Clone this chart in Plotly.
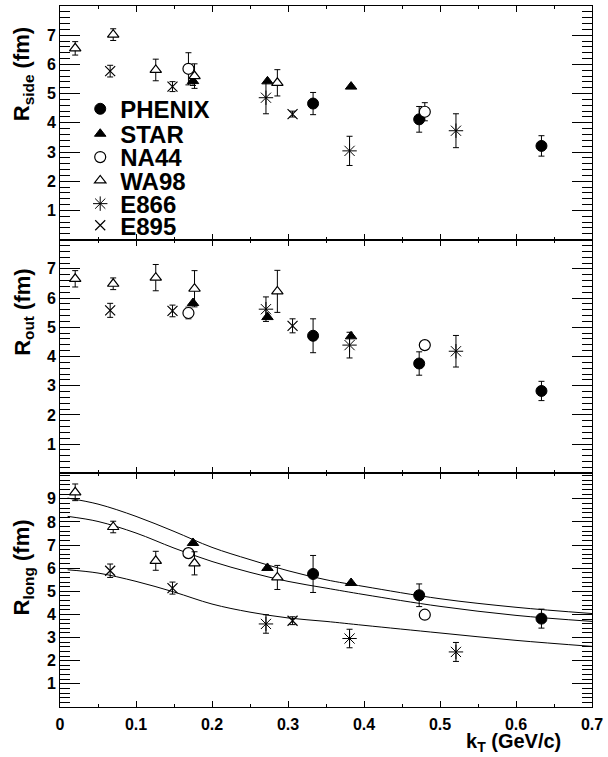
import plotly.graph_objects as go

# ---------------- data ----------------
phenix_kt = [0.333, 0.4726, 0.6335]
phenix_side = [4.66, 4.12, 3.21]
phenix_side_err = [0.38, 0.44, 0.35]
phenix_out = [4.71, 3.76, 2.82]
phenix_out_err = [0.58, 0.40, 0.33]
phenix_long = [5.75, 4.83, 3.82]
phenix_long_err = [0.80, 0.49, 0.41]

star_kt = [0.175, 0.273, 0.383]
star_side = [5.43, 5.42, 5.24]
star_side_err = [0.15, 0.0, 0.0]
star_out = [5.83, 5.35, 4.69]
star_out_err = [0.0, 0.0, 0.0]
star_long = [7.09, 6.01, 5.36]
star_long_err = [0.0, 0.0, 0.0]

na44_kt = [0.169, 0.48]
na44_side = [5.85, 4.38]
na44_side_err = [0.55, 0.31]
na44_out = [5.49, 4.39]
na44_out_err = [0.20, 0.0]
na44_long = [6.65, 3.99]
na44_long_err = [0.20, 0.0]

wa98_kt = [0.020, 0.070, 0.126, 0.177, 0.286]
wa98_side = [6.55, 7.02, 5.81, 5.60, 5.37]
wa98_side_err = [0.23, 0.20, 0.37, 0.42, 0.45]
wa98_out = [6.66, 6.49, 6.70, 6.32, 6.23]
wa98_out_err = [0.28, 0.20, 0.45, 0.62, 0.72]
wa98_long = [9.28, 7.78, 6.32, 6.21, 5.60]
wa98_long_err = [0.36, 0.25, 0.41, 0.50, 0.52]

e866_kt = [0.271, 0.381, 0.521]
e866_side = [4.86, 3.04, 3.73]
e866_side_err = [0.55, 0.50, 0.58]
e866_out = [5.62, 4.39, 4.18]
e866_out_err = [0.42, 0.44, 0.54]
e866_long = [3.59, 2.96, 2.38]
e866_long_err = [0.40, 0.40, 0.41]

e895_kt = [0.066, 0.148, 0.306]
e895_side = [5.77, 5.24, 4.30]
e895_side_err = [0.20, 0.17, 0.10]
e895_out = [5.58, 5.56, 5.05]
e895_out_err = [0.24, 0.20, 0.24]
e895_long = [5.89, 5.14, 3.73]
e895_long_err = [0.29, 0.26, 0.17]

# curves in R_long panel
curve_kt = [0.01, 0.05, 0.10, 0.15, 0.20, 0.25, 0.30, 0.35, 0.40, 0.50, 0.60, 0.70]
curve_upper = [9.03, 8.77, 8.24, 7.59, 6.90, 6.37, 5.89, 5.50, 5.21, 4.68, 4.31, 4.04]
curve_middle = [8.24, 8.02, 7.52, 6.87, 6.29, 5.82, 5.43, 5.14, 4.86, 4.35, 3.96, 3.70]
curve_lower = [5.93, 5.79, 5.43, 4.97, 4.45, 4.10, 3.85, 3.70, 3.53, 3.20, 2.88, 2.62]

x_tick_vals = [0, 0.1, 0.2, 0.3, 0.4, 0.5, 0.6, 0.7]
x_tick_text = ["0", "0.1", "0.2", "0.3", "0.4", "0.5", "0.6", "0.7"]
y_tick_vals_so = [1, 2, 3, 4, 5, 6, 7]
y_tick_vals_l = [1, 2, 3, 4, 5, 6, 7, 8, 9]

FONT = "Liberation Sans"

datasets = [
    ("PHENIX", phenix_kt, [phenix_side, phenix_out, phenix_long],
     [phenix_side_err, phenix_out_err, phenix_long_err],
     dict(symbol="circle", size=11, color="black", line=dict(color="black", width=1))),
    ("STAR", star_kt, [star_side, star_out, star_long],
     [star_side_err, star_out_err, star_long_err],
     dict(symbol="triangle-up", size=10, color="black", line=dict(color="black", width=1))),
    ("NA44", na44_kt, [na44_side, na44_out, na44_long],
     [na44_side_err, na44_out_err, na44_long_err],
     dict(symbol="circle", size=11, color="white", line=dict(color="black", width=1.2))),
    ("WA98", wa98_kt, [wa98_side, wa98_out, wa98_long],
     [wa98_side_err, wa98_out_err, wa98_long_err],
     dict(symbol="triangle-up", size=10, color="white", line=dict(color="black", width=1.2))),
    ("E866", e866_kt, [e866_side, e866_out, e866_long],
     [e866_side_err, e866_out_err, e866_long_err],
     dict(symbol="asterisk-open", size=12, color="black", line=dict(color="black", width=1))),
    ("E895", e895_kt, [e895_side, e895_out, e895_long],
     [e895_side_err, e895_out_err, e895_long_err],
     dict(symbol="x-thin-open", size=10, color="black", line=dict(color="black", width=1.2))),
]

# panel index 0 = side (top), 1 = out (middle), 2 = long (bottom)
axis_of_panel = [("x3", "y3"), ("x2", "y2"), ("x", "y")]

fig = go.Figure()

# curves
for cy in (curve_upper, curve_middle, curve_lower):
    fig.add_trace(go.Scatter(x=curve_kt, y=cy, mode="lines", line=dict(color="black", width=1, shape="spline"),
                             xaxis="x", yaxis="y", showlegend=False, hoverinfo="skip"))

legend_names = ["legend", "legend2", "legend3", "legend4", "legend5", "legend6"]
for di, (name, kt, vals, errs, mk) in enumerate(datasets):
    for p in range(3):
        xa, ya = axis_of_panel[p]
        fig.add_trace(go.Scatter(
            x=kt, y=vals[p], mode="markers", name=name,
            marker=mk,
            error_y=dict(type="data", array=errs[p], visible=True, color="black", thickness=1, width=3),
            xaxis=xa, yaxis=ya,
            showlegend=(p == 0), legend=legend_names[di],
        ))

common_x = dict(range=[0, 0.7], showline=True, linecolor="black", linewidth=1, mirror="allticks",
                ticks="inside", ticklen=6, tickcolor="black", tickwidth=1,
                tickvals=x_tick_vals, ticktext=x_tick_text,
                minor=dict(dtick=0.05, tick0=0, ticks="inside", ticklen=3, tickcolor="black", tickwidth=1),
                showgrid=False, zeroline=False)
common_y = dict(showline=True, linecolor="black", linewidth=1, mirror="allticks",
                ticks="inside", ticklen=20, tickcolor="black", tickwidth=1,
                minor=dict(dtick=0.2, tick0=0, ticks="inside", ticklen=10, tickcolor="black", tickwidth=1),
                showgrid=False, zeroline=False,
                tickfont=dict(family=FONT, size=16, color="black", weight="bold"))

d = 1 / 3
fig.update_layout(
    width=608, height=757,
    margin=dict(l=60, r=12, t=5, b=50),
    paper_bgcolor="white", plot_bgcolor="white",
    font=dict(family=FONT, color="black"),
    xaxis=dict(common_x, domain=[0, 1], anchor="y", showticklabels=True, ticklabelstandoff=3,
               tickfont=dict(family=FONT, size=16, color="black", weight="bold")),
    xaxis2=dict(common_x, domain=[0, 1], anchor="y2", matches="x", showticklabels=False),
    xaxis3=dict(common_x, domain=[0, 1], anchor="y3", matches="x", showticklabels=False),
    yaxis=dict(common_y, domain=[0, d], anchor="x", range=[0, 10.1], tickvals=y_tick_vals_l),
    yaxis2=dict(common_y, domain=[d, 2 * d], anchor="x2", range=[0, 8], tickvals=y_tick_vals_so),
    yaxis3=dict(common_y, domain=[2 * d, 1], anchor="x3", range=[0, 8], tickvals=y_tick_vals_so),
    showlegend=True,
)

# one legend per entry so that the rows can be packed tightly
leg_y = [0.8528, 0.8172, 0.7839, 0.7507, 0.7175, 0.6866]
for ln, ly in zip(legend_names, leg_y):
    fig.update_layout({ln: dict(x=0.038, y=ly, xanchor="left", yanchor="middle",
                                bgcolor="rgba(0,0,0,0)", borderwidth=0,
                                font=dict(family=FONT, size=24, color="black", weight="bold"),
                                itemwidth=30)})

ann_font = dict(family=FONT, size=22, color="black", weight="bold")
fig.add_annotation(text="R<sub>side</sub> (fm)", textangle=-90, xref="paper", yref="paper",
                   x=-0.069, y=1 - (73 - 5) / 702, xanchor="center", yanchor="middle",
                   showarrow=False, font=ann_font)
fig.add_annotation(text="R<sub>out</sub> (fm)", textangle=-90, xref="paper", yref="paper",
                   x=-0.069, y=1 - (312 - 5) / 702, xanchor="center", yanchor="middle",
                   showarrow=False, font=ann_font)
fig.add_annotation(text="R<sub>long</sub> (fm)", textangle=-90, xref="paper", yref="paper",
                   x=-0.069, y=1 - (567 - 5) / 702, xanchor="center", yanchor="middle",
                   showarrow=False, font=ann_font)
fig.add_annotation(text="k<sub>T</sub> (GeV/c)", xref="paper", yref="paper",
                   x=(567 - 60) / 536, y=1 - (743 - 5) / 702, xanchor="right", yanchor="middle",
                   showarrow=False, font=dict(family=FONT, size=20, color="black", weight="bold"))

fig.write_html("out.html")
